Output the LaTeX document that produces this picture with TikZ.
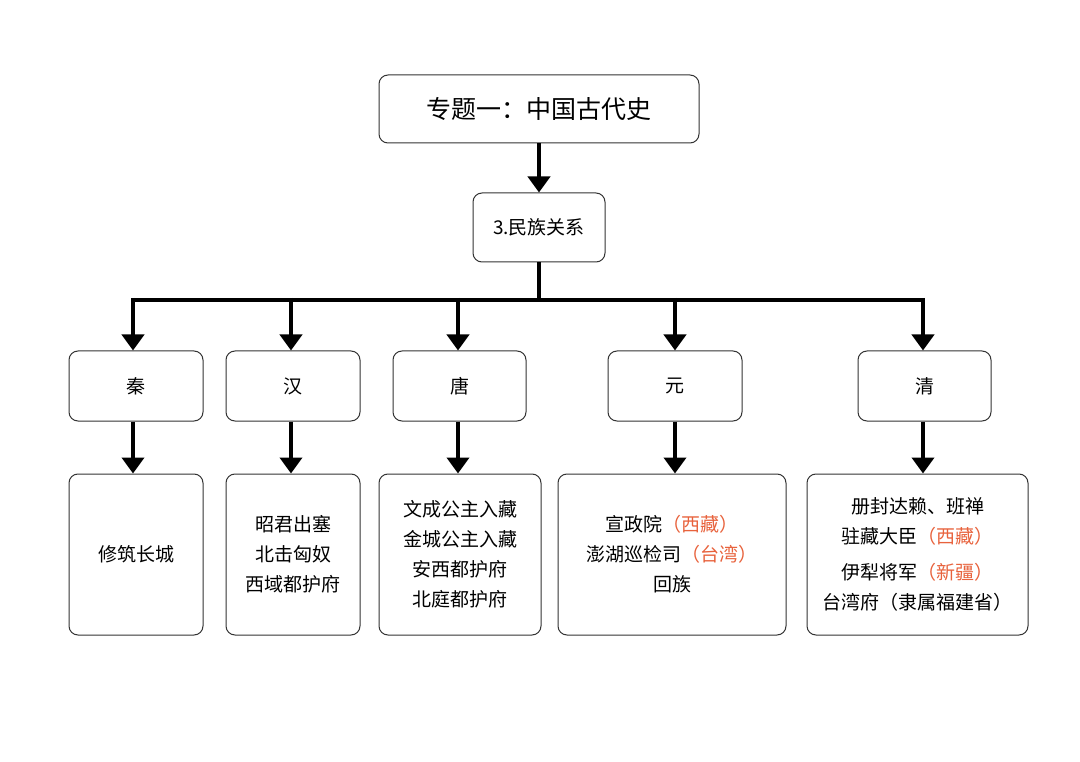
\documentclass[tikz,border=0pt]{standalone}
\usepackage{fontspec}
\setmainfont{Noto Sans CJK SC}
\usetikzlibrary{arrows.meta}
\definecolor{org}{RGB}{232,98,60}
\tikzset{
 bx/.style={draw=black!80,line width=1pt,rounded corners=9pt,fill=white,align=center,font=\fontsize{19}{30}\selectfont},
 ar/.style={line width=4pt,-{Triangle[width=22pt,length=16pt]}},
 ln/.style={line width=4pt}
}
\newcommand{\bxat}[6]{\node[bx,minimum width=#3-#2,minimum height=#5-#4,inner sep=0pt] (#1) at ({(#2+#3)/2},{(#4+#5)/2}) {#6};}
\begin{document}
\begin{tikzpicture}[x=1pt,y=-1pt]
\useasboundingbox (0,0) rectangle (1080,762);
\node[bx,minimum width=320,minimum height=68,font=\fontsize{25}{30}\selectfont] (top) at (539,109) {专题一：中国古代史};
\node[bx,minimum width=132,minimum height=69] (mz) at (539,227.5) {3.民族关系};
\draw[ar] (top.south) -- (mz.north);
\bxat{d1}{69}{203}{351}{421}{秦}
\bxat{d2}{226}{360}{351}{421}{汉}
\bxat{d3}{393}{526}{351}{421}{唐}
\bxat{d4}{608}{742}{351}{421}{元}
\bxat{d5}{858}{991}{351}{421}{清}
\bxat{e1}{69}{203}{474}{635}{修筑长城}
\bxat{e2}{226}{360}{474}{635}{昭君出塞\\北击匈奴\\西域都护府}
\bxat{e3}{379}{541}{474}{635}{文成公主入藏\\金城公主入藏\\安西都护府\\北庭都护府}
\bxat{e4}{558}{786}{474}{635}{宣政院\textcolor{org}{（西藏）}\\澎湖巡检司\textcolor{org}{（台湾）}\\回族}
\bxat{e5}{807}{1028}{474}{635}{册封达赖、班禅\\驻藏大臣\textcolor{org}{（西藏）}\\[6pt]伊犁将军\textcolor{org}{（新疆）}\\台湾府（隶属福建省）}
\coordinate (bus) at (539,300);
\draw[ln] (mz.south) -- (bus);
\draw[ln] (133,300) -- (923,300);
\foreach \i/\x in {1/133,2/291,3/458,4/675,5/923}{
  \draw[ar] (\x,298) -- (d\i.north -| \x,0);
  \draw[ar] (d\i.south -| \x,0) -- (e\i.north -| \x,0);
}
\end{tikzpicture}
\end{document}
